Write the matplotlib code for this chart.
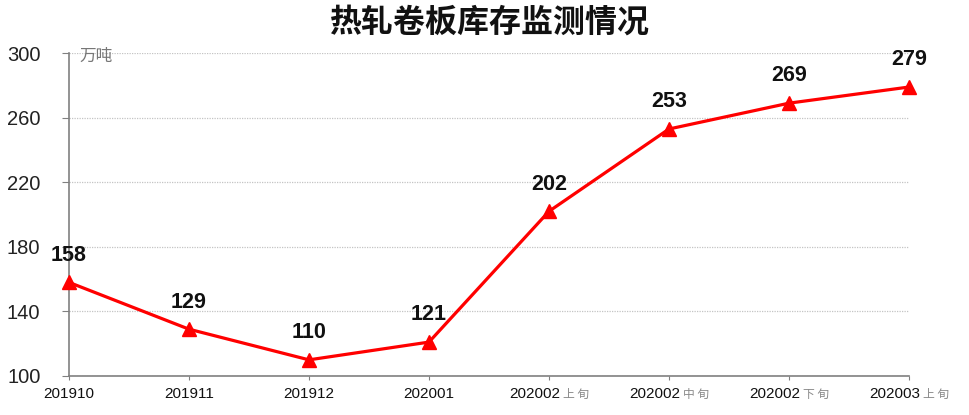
import matplotlib
matplotlib.use("Agg")
import matplotlib.pyplot as plt
from matplotlib.offsetbox import TextArea, HPacker, AnnotationBbox

plt.rcParams['font.family'] = ['Liberation Sans', 'Noto Sans CJK SC', 'DejaVu Sans']

periods = ["201910", "201911", "201912", "202001", "202002", "202002", "202002", "202003"]
suffixes = ["", "", "", "", "上 旬", "中 旬", "下 旬", "上 旬"]
values = [158, 129, 110, 121, 202, 253, 269, 279]
yticks = [100, 140, 180, 220, 260, 300]
title = "热轧卷板库存监测情况"
unit = "万吨"

fig = plt.figure(figsize=(9.7, 4.15), dpi=100)
ax = fig.add_axes([0.0711, 0.094, 0.866, 0.778])

x = list(range(len(values)))
ax.plot(x, values, color='#FF0000', lw=2.3, marker='^', markersize=10.5,
        markeredgecolor='#FF0000', zorder=3, clip_on=False)
for xi, v in zip(x, values):
    ax.annotate(str(v), (xi, v), xytext=(0, 12), textcoords='offset points',
                ha='center', va='bottom', fontsize=15.5, fontweight='bold', color='#111111')

ax.set_xlim(0, len(values) - 1)
ax.set_ylim(100, 300)
ax.set_yticks(yticks)
ax.set_yticklabels([str(t) for t in yticks], fontsize=14.5, color='#222222')
ax.set_xticks(x)
ax.set_xticklabels([""] * len(x))
ax.grid(axis='y', color='#c4c4c4', linestyle=(0, (1, 1)), lw=0.9)
ax.set_axisbelow(True)
for s in ['top', 'right']:
    ax.spines[s].set_visible(False)
for s in ['left', 'bottom']:
    ax.spines[s].set_color('#808080')
    ax.spines[s].set_linewidth(1.2)
ax.tick_params(axis='y', length=5, color='#808080', pad=15.5)
ax.tick_params(axis='x', length=3, color='#808080')

for xi, p, s in zip(x, periods, suffixes):
    parts = [TextArea(p, textprops=dict(fontsize=11, color='#111111'))]
    if s:
        parts.append(TextArea(s, textprops=dict(fontsize=8.5, color='#8a8a8a',
                                                family=['Noto Sans CJK SC', 'DejaVu Sans'])))
    box = HPacker(children=parts, align='baseline', pad=0, sep=2)
    ab = AnnotationBbox(box, (xi, 0), xycoords=ax.get_xaxis_transform(),
                        xybox=(0, -13), boxcoords='offset points',
                        box_alignment=(0.5, 0.5), frameon=False,
                        annotation_clip=False)
    ax.add_artist(ab)

ax.text(0.012, 0.99, unit, transform=ax.transAxes, ha='left', va='center',
        fontsize=12, color='#777777', family=['Noto Sans CJK SC'])
fig.text(0.505, 0.945, title, ha='center', va='center', fontsize=23,
         fontweight='bold', color='#111111', family=['Noto Sans CJK SC'])

fig.savefig('out.png', dpi=100)
